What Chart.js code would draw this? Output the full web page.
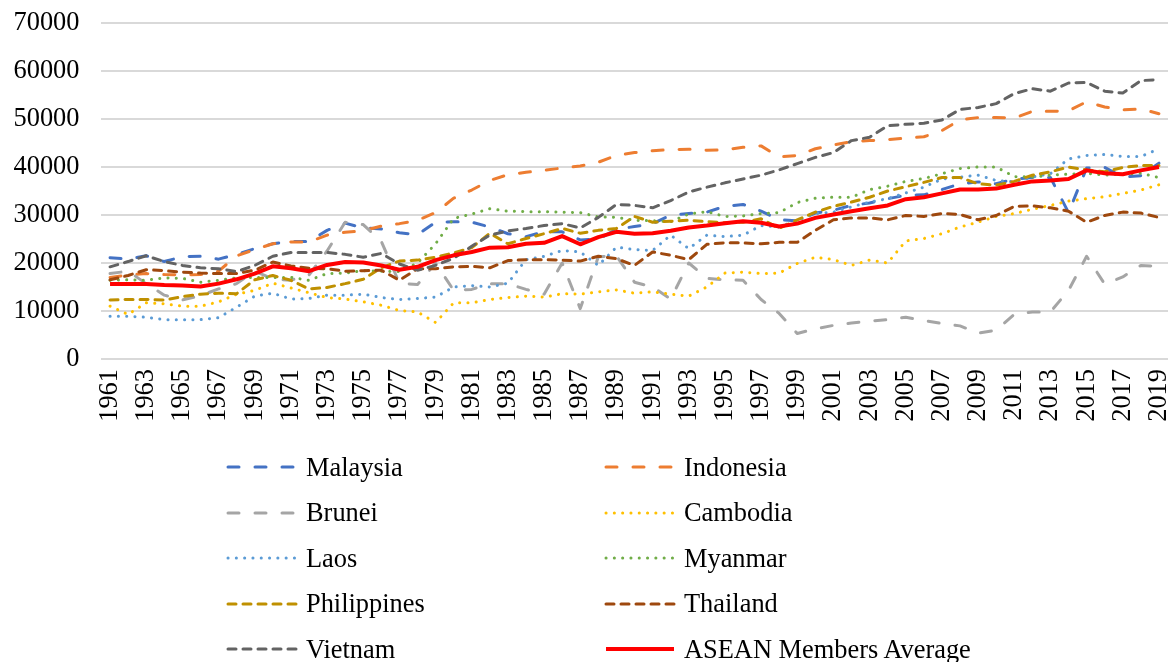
<!DOCTYPE html>
<html>
<head>
<meta charset="utf-8">
<script src="https://cdn.jsdelivr.net/npm/chart.js@4/dist/chart.umd.min.js"></script>
<style>
    html, body { margin: 0; padding: 0; background: #fff; }
    .wrap { position: relative; width: 1176px; height: 662px; overflow: hidden; }
    #chart { position: absolute; left: 0; top: 0; }
    .legend-item {
        position: absolute;
        height: 32px;
        display: flex;
        align-items: center;
        font-family: 'Liberation Serif', 'Times New Roman', serif;
        font-size: 26.4px;
        color: #000;
        white-space: nowrap;
    }
    .legend-item svg { margin-right: 8px; }
</style>
</head>
<body>
<div class="wrap">
    <canvas id="chart" width="1176" height="662"></canvas>
    <div id="legend"></div>
</div>
<script>
// Categories: 1961 - 2019
const years = [];
for (let y = 1961; y <= 2019; y++) years.push(String(y));

const yMin = 0;
const yMax = 70000;
const yStep = 10000;

const malaysia = [21100, 20800, 21500, 20300, 21300, 21400, 20800, 21800, 23000, 24000,
    24500, 24500, 26800, 28300, 27300, 27100, 26300, 25900, 28500, 28600,
    28500, 27500, 26100, 25500, 26500, 26500, 24800, 25000, 27000, 27600,
    28200, 30000, 30300, 30600, 31800, 32200, 30800, 29000, 28800, 30400,
    31000, 32000, 32500, 33400, 34100, 34200, 35300, 36500, 36900, 36500,
    37500, 37800, 37800, 30500, 39800, 39900, 37900, 38200, 40800];

const indonesia = [17000, 17500, 17800, 17600, 17500, 17600, 18300, 21500, 22800, 24000,
    24400, 24400, 25800, 26400, 26700, 27700, 28200, 28900, 30500, 33500,
    35200, 37200, 38400, 38900, 39300, 39800, 40200, 41000, 42400, 43000,
    43400, 43600, 43700, 43500, 43600, 44100, 44400, 42100, 42400, 43800,
    44600, 45300, 45500, 45700, 46000, 46300, 47600, 49800, 50300, 50300,
    50200, 51600, 51600, 51700, 53600, 52500, 51900, 52100, 51100];

const brunei = [17800, 18300, 15700, 13300, 12300, 13200, 14600, 15700, 18300, 16700,
    16400, 17500, 22500, 28500, 28000, 24500, 15800, 15500, 20000, 14300,
    14500, 15700, 15700, 14500, 13500, 20000, 10500, 21300, 21500, 16000,
    15000, 12500, 20000, 16800, 16500, 16400, 12400, 9500, 5300, 6300,
    7000, 7500, 7900, 8200, 8700, 8000, 7400, 6900, 5400, 6000,
    9300, 9800, 9800, 14300, 21400, 15600, 17100, 19500, 19300];

const cambodia = [11000, 9300, 11700, 11500, 11000, 11000, 11900, 13500, 14300, 15800,
    14800, 13800, 12800, 12500, 11900, 11200, 10100, 9800, 7600, 11700,
    11700, 12400, 12800, 13100, 12900, 13600, 13500, 14000, 14400, 13700,
    14000, 13500, 13100, 15000, 17900, 18100, 17800, 17900, 19900, 21200,
    20700, 19500, 20600, 20000, 24600, 25100, 26100, 27500, 28500, 29700,
    30300, 31200, 32000, 32900, 33400, 33800, 34500, 35200, 36300];

const laos = [8900, 8900, 8700, 8200, 8200, 8200, 8600, 10800, 13100, 13700,
    12500, 12600, 13300, 13300, 13500, 12800, 12400, 12600, 12900, 15000,
    15300, 15000, 15800, 20700, 21400, 22600, 22300, 19500, 23300, 22800,
    22600, 25800, 23000, 25800, 25500, 25800, 27800, 27500, 28900, 30300,
    30600, 31700, 32700, 33400, 34600, 35800, 37500, 37900, 38300, 37200,
    36900, 37900, 38600, 41700, 42400, 42600, 42200, 42200, 43800];

const myanmar = [16400, 16500, 16400, 16900, 16800, 16000, 16400, 16900, 17000, 17000,
    17000, 16400, 17800, 17900, 18400, 18300, 18200, 20000, 24000, 29300,
    30200, 31300, 30800, 30700, 30700, 30600, 30500, 29600, 29500, 28900,
    28800, 28600, 30200, 30700, 29700, 29800, 30300, 30500, 32600, 33500,
    33700, 33700, 35300, 36000, 37000, 37600, 38600, 39700, 40000, 40000,
    38000, 37900, 38300, 38500, 38700, 38300, 38500, 38700, 37800];

const philippines = [12300, 12400, 12400, 12300, 13000, 13500, 13700, 13600, 16500, 17400,
    16400, 14600, 14900, 15700, 16600, 19000, 20400, 20600, 21200, 22100,
    23200, 26200, 24000, 25100, 26100, 27200, 26200, 26800, 27200, 29700,
    28500, 28700, 28900, 28600, 28400, 28500, 29200, 27200, 29000, 30600,
    31800, 32700, 33700, 35000, 35900, 36800, 37800, 37800, 36500, 36200,
    37000, 38300, 39000, 40000, 39400, 39000, 39900, 40300, 40300];

const thailand = [16500, 17400, 18600, 18400, 18100, 17900, 17800, 17800, 18500, 20200,
    19400, 18900, 18800, 18300, 18400, 18500, 16400, 18800, 18800, 19200,
    19300, 19000, 20500, 20700, 20700, 20600, 20400, 21400, 20900, 19500,
    22300, 21600, 20700, 23900, 24200, 24200, 24000, 24300, 24300, 26800,
    29000, 29400, 29400, 29000, 29900, 29700, 30300, 30100, 29000, 29900,
    31800, 31900, 31500, 30800, 28500, 29900, 30600, 30400, 29500];

const vietnam = [19200, 20300, 21500, 20300, 19500, 19000, 18800, 18200, 19500, 21400,
    22200, 22200, 22200, 21800, 21200, 22000, 19800, 18500, 19500, 21000,
    23500, 25800, 26700, 27200, 27800, 28200, 27300, 29500, 32200, 32000,
    31500, 33000, 34800, 35800, 36700, 37500, 38300, 39400, 40700, 42000,
    43000, 45500, 46200, 48600, 48900, 49100, 49800, 52000, 52400, 53200,
    55300, 56300, 55800, 57500, 57600, 55800, 55400, 58000, 58200];

const aseanAverage = [15600, 15600, 15600, 15400, 15300, 15100, 15700, 16600, 17800, 19300,
    18900, 18300, 19600, 20200, 20100, 19500, 18600, 19200, 20600, 21600,
    22300, 23200, 23300, 24000, 24200, 25600, 23900, 25400, 26500, 26100,
    26200, 26700, 27400, 27800, 28300, 28700, 28400, 27600, 28200, 29400,
    30100, 30800, 31400, 32000, 33300, 33700, 34500, 35300, 35300, 35500,
    36300, 37000, 37200, 37500, 39300, 38700, 38500, 39300, 40000];

// line styles (Excel-like dash types)
const longDash = [11, 16];
const dash = [8, 7];
const roundDot = [0.1, 8.2];

const series = [
    { label: 'Malaysia', data: malaysia, color: '#4472C4', dash: longDash, width: 3 },
    { label: 'Indonesia', data: indonesia, color: '#ED7D31', dash: longDash, width: 3 },
    { label: 'Brunei', data: brunei, color: '#A5A5A5', dash: longDash, width: 3 },
    { label: 'Cambodia', data: cambodia, color: '#FFC000', dash: roundDot, width: 3 },
    { label: 'Laos', data: laos, color: '#5B9BD5', dash: roundDot, width: 3 },
    { label: 'Myanmar', data: myanmar, color: '#70AD47', dash: roundDot, width: 3 },
    { label: 'Philippines', data: philippines, color: '#BF9000', dash: dash, width: 3 },
    { label: 'Thailand', data: thailand, color: '#9E480E', dash: dash, width: 3 },
    { label: 'Vietnam', data: vietnam, color: '#636363', dash: dash, width: 3 },
    { label: 'ASEAN Members Average', data: aseanAverage, color: '#FF0000', dash: [], width: 4 }
];

const fontFamily = "'Liberation Serif', 'Times New Roman', serif";
Chart.defaults.font.family = fontFamily;
Chart.defaults.font.size = 26.4;
Chart.defaults.color = '#000';

const datasets = series.map((s, i) => ({
    label: s.label,
    data: s.data,
    borderColor: s.color,
    backgroundColor: s.color,
    borderWidth: s.width,
    borderDash: s.dash,
    borderCapStyle: s.dash.length ? 'round' : 'butt',
    borderJoinStyle: 'round',
    pointRadius: 0,
    pointHoverRadius: 0,
    tension: 0,
    fill: false,
    // later series drawn on top, like Excel
    order: series.length - i
}));

const ctx = document.getElementById('chart').getContext('2d');
new Chart(ctx, {
    type: 'line',
    data: { labels: years, datasets: datasets },
    options: {
        responsive: false,
        animation: false,
        layout: { padding: { top: 23, right: 8, left: 0, bottom: 0 } },
        plugins: {
            legend: { display: false },
            tooltip: { enabled: false }
        },
        scales: {
            x: {
                offset: true,
                grid: { display: false, drawTicks: false },
                border: { display: false },
                ticks: {
                    autoSkip: false,
                    minRotation: 90,
                    maxRotation: 90,
                    padding: 10,
                    // tiny line height keeps the rotated labels from eating into the right margin
                    font: { lineHeight: 0.05 },
                    callback: function(val, i) {
                        return i % 2 === 0 ? this.getLabelForValue(val) : '';
                    }
                },
                afterFit: function(scale) { scale.height = 303; }
            },
            y: {
                min: yMin,
                max: yMax,
                grid: { color: '#d9d9d9', lineWidth: 2, drawTicks: false },
                border: { display: false },
                ticks: {
                    stepSize: yStep,
                    padding: 21.5,
                    font: { lineHeight: 0.05 },
                    callback: v => String(v)
                },
                afterFit: function(scale) { scale.width = 101; }
            }
        }
    }
});

// Two-column legend under the plot, built from the same series list
const legend = document.getElementById('legend');
series.forEach((s, i) => {
    const col = i % 2;
    const row = Math.floor(i / 2);
    const item = document.createElement('div');
    item.className = 'legend-item';
    item.style.left = (col === 0 ? 226 : 604) + 'px';
    item.style.top = (467 + row * 45.5 - 16) + 'px';
    const cap = s.dash.length ? 'round' : 'butt';
    const dashAttr = s.dash.length ? `stroke-dasharray="${s.dash.join(' ')}"` : '';
    item.innerHTML =
        `<svg width="72" height="10"><line x1="2" y1="5" x2="70" y2="5" stroke="${s.color}" ` +
        `stroke-width="${s.width}" stroke-linecap="${cap}" ${dashAttr}/></svg>` +
        `<span>${s.label}</span>`;
    legend.appendChild(item);
});
</script>
</body>
</html>
